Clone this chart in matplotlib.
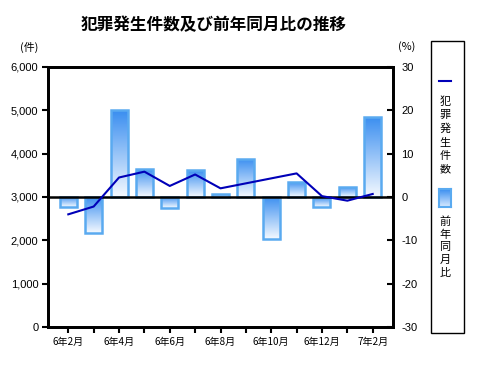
import matplotlib
matplotlib.use("Agg")
import matplotlib.pyplot as plt
import numpy as np
from matplotlib.colors import LinearSegmentedColormap
from matplotlib.patches import Rectangle
from matplotlib.lines import Line2D

months = ["6年2月", "6年3月", "6年4月", "6年5月", "6年6月", "6年7月", "6年8月",
          "6年9月", "6年10月", "6年11月", "6年12月", "7年1月", "7年2月"]
crimes = [2600, 2780, 3450, 3585, 3255, 3520, 3200, 3315, 3430, 3545, 3020, 2915, 3070]
yoy = [-2.4, -8.4, 20.0, 6.5, -2.6, 6.2, 0.6, 8.8, -9.8, 3.5, -2.2, 2.4, 18.5]
left_ticks = [0, 1000, 2000, 3000, 4000, 5000, 6000]
right_ticks = [-30, -20, -10, 0, 10, 20, 30]

CJK = ["Noto Sans CJK JP", "DejaVu Sans"]
NUM = ["Liberation Sans", "DejaVu Sans"]

fig = plt.figure(figsize=(4.8, 3.65), dpi=100)
W, H = 480, 365
ax1 = fig.add_axes([48 / W, 1 - 327 / H, (393 - 48) / W, (327 - 67) / H])
ax2 = ax1.twinx()

x = np.arange(len(months))
bars = ax2.bar(x, yoy, width=0.67, color="none", edgecolor="#5aaaf0", linewidth=1.8, zorder=3)
cmap = LinearSegmentedColormap.from_list("g", ["#3a8ef0", "#f4f9ff"])
grad = np.linspace(0, 1, 100).reshape(-1, 1)
for b in bars:
    bb = b.get_bbox()
    im = ax2.imshow(grad, extent=(bb.x0, bb.x1, min(bb.y0, bb.y1), max(bb.y0, bb.y1)),
                    origin="upper", aspect="auto", cmap=cmap, zorder=2)
    im.set_clip_path(b)
ax2.axhline(0, color="black", linewidth=1.8, zorder=4)

ax1.plot(x, crimes, color="#0000b8", linewidth=1.5, zorder=5)
ax1.set_zorder(ax2.get_zorder() + 1)
ax1.patch.set_visible(False)

ax1.set_xlim(-0.8, 12.8)
ax1.set_ylim(0, 6000)
ax2.set_ylim(-30, 30)

ax1.set_yticks(left_ticks)
ax1.set_yticklabels([f"{v:,}" for v in left_ticks], fontfamily=NUM, fontsize=8)
ax2.set_yticks(right_ticks)
ax2.set_yticklabels([str(v) for v in right_ticks], fontfamily=NUM, fontsize=8)
ax1.set_xticks(x)
ax1.set_xticklabels([m if i % 2 == 0 else "" for i, m in enumerate(months)],
                    fontfamily=CJK, fontsize=7.2)

ax1.tick_params(axis="y", direction="out", length=4, width=1.5, pad=3)
ax1.tick_params(axis="x", direction="out", length=4, width=1.5, pad=3)
ax2.tick_params(axis="y", direction="in", length=4, width=1.5, pad=6)
for ax in (ax1, ax2):
    for s in ax.spines.values():
        s.set_linewidth(2)

fig.text(214 / W, 1 - 25 / H, "犯罪発生件数及び前年同月比の推移", fontfamily=CJK,
         fontsize=12, fontweight="bold", ha="center", va="center")
fig.text(29 / W, 1 - 47 / H, "(件)", fontfamily=CJK, fontsize=7.8, ha="center", va="center")
fig.text(407 / W, 1 - 47 / H, "(%)", fontfamily=CJK, fontsize=7.8, ha="center", va="center")

# legend
fig.patches.append(Rectangle((431 / W, 1 - 333 / H), 33 / W, 292 / H, transform=fig.transFigure,
                             facecolor="white", edgecolor="black", linewidth=1, zorder=0.5))
fig.lines.append(Line2D([439 / W, 451 / W], [1 - 81 / H, 1 - 81 / H], transform=fig.transFigure,
                        color="#0000b8", linewidth=1.5, zorder=2))
fig.text(445 / W, 1 - 96 / H, "\n".join("犯罪発生件数"), fontfamily=CJK, fontsize=8,
         ha="center", va="top", linespacing=1.42)
lax = fig.add_axes([439 / W, 1 - 207 / H, 12 / W, 18 / H])
lax.set_zorder(3)
lax.imshow(grad, extent=(0, 1, 0, 1), origin="upper", aspect="auto",
           cmap=LinearSegmentedColormap.from_list("g2", ["#3a8ef0", "#d8eaff"]))
lax.set_xticks([])
lax.set_yticks([])
for s in lax.spines.values():
    s.set_edgecolor("#5aaaf0")
    s.set_linewidth(1.5)
fig.text(445 / W, 1 - 216 / H, "\n".join("前年同月比"), fontfamily=CJK, fontsize=8,
         ha="center", va="top", linespacing=1.33)

fig.savefig("out.png", dpi=100)
